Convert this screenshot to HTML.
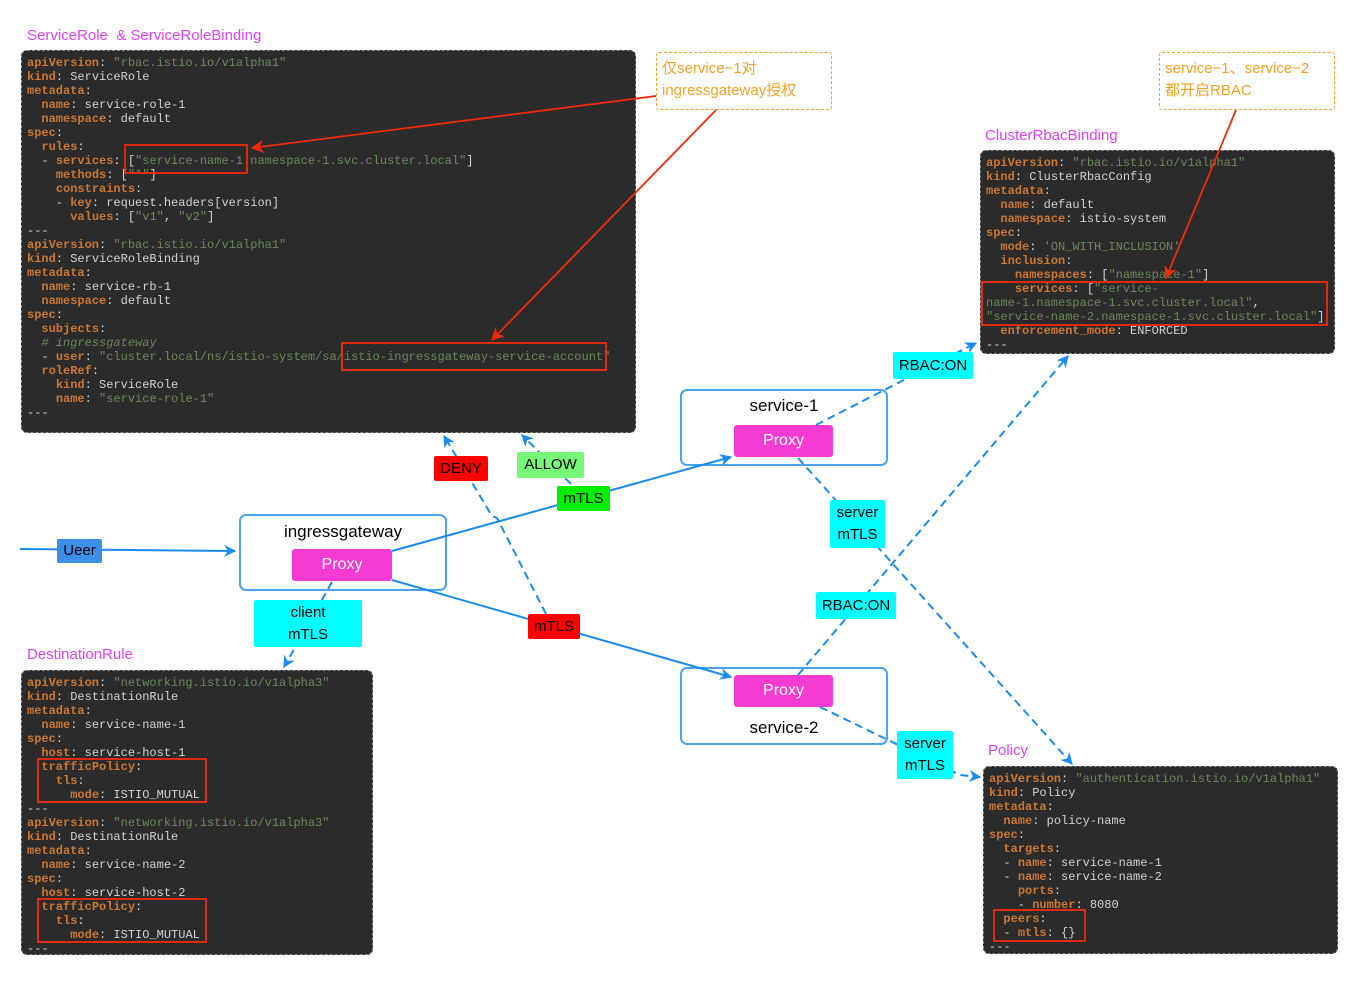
<!DOCTYPE html>
<html><head><meta charset="utf-8"><style>
body{margin:0;width:1358px;height:989px;background:#fff;position:relative;overflow:hidden;font-family:"Liberation Sans","Noto Sans CJK SC",sans-serif}
.code{position:absolute;background:#2b2b2b;border:1.5px dashed #888;border-radius:6px;box-sizing:border-box;margin:0;padding:5px 0 0 5px;font:12px/14px "Liberation Mono",monospace;color:#d0d3d6;white-space:pre;overflow:hidden}
.k{color:#cc7832;font-weight:bold}.s{color:#6a8759}.c{color:#6a8759;font-style:italic}
.t{position:absolute;color:#e040fb;font-size:15px}
.lb{position:absolute;font-size:15px;color:#000;text-align:center;border-radius:2px;display:flex;align-items:center;justify-content:center;line-height:22px}
.ob{position:absolute;border:1.5px dashed #f7a125;color:#f7a125;font-size:15px;line-height:22px;padding:5px 5px;box-sizing:border-box;border-radius:3px}
.nb{position:absolute;border:2px solid #4aa3f0;border-radius:7px;box-sizing:border-box;font-size:17px;text-align:center}
.px{position:absolute;background:#f53bd2;color:#fff;font-size:16px;border-radius:3px;display:flex;align-items:center;justify-content:center}
svg{position:absolute;left:0;top:0}
</style></head><body>
<div class="t" style="left:27px;top:27px">ServiceRole &nbsp;&amp; ServiceRoleBinding</div>
<div class="t" style="left:985px;top:127px">ClusterRbacBinding</div>
<div class="t" style="left:27px;top:646px">DestinationRule</div>
<div class="t" style="left:988px;top:742px">Policy</div>

<pre class="code" style="left:21px;top:50px;width:615px;height:383px"><span class="k">apiVersion</span>: <span class="s">"rbac.istio.io/v1alpha1"</span>
<span class="k">kind</span>: ServiceRole
<span class="k">metadata</span>:
  <span class="k">name</span>: service-role-1
  <span class="k">namespace</span>: default
<span class="k">spec</span>:
  <span class="k">rules</span>:
  - <span class="k">services</span>: [<span class="s">"service-name-1.namespace-1.svc.cluster.local"</span>]
    <span class="k">methods</span>: [<span class="s">"*"</span>]
    <span class="k">constraints</span>:
    - <span class="k">key</span>: request.headers[version]
      <span class="k">values</span>: [<span class="s">"v1"</span>, <span class="s">"v2"</span>]
---
<span class="k">apiVersion</span>: <span class="s">"rbac.istio.io/v1alpha1"</span>
<span class="k">kind</span>: ServiceRoleBinding
<span class="k">metadata</span>:
  <span class="k">name</span>: service-rb-1
  <span class="k">namespace</span>: default
<span class="k">spec</span>:
  <span class="k">subjects</span>:
  <span class="c"># ingressgateway</span>
  - <span class="k">user</span>: <span class="s">"cluster.local/ns/istio-system/sa/istio-ingressgateway-service-account"</span>
  <span class="k">roleRef</span>:
    <span class="k">kind</span>: ServiceRole
    <span class="k">name</span>: <span class="s">"service-role-1"</span>
---</pre>

<pre class="code" style="left:980px;top:150px;width:355px;height:204px"><span class="k">apiVersion</span>: <span class="s">"rbac.istio.io/v1alpha1"</span>
<span class="k">kind</span>: ClusterRbacConfig
<span class="k">metadata</span>:
  <span class="k">name</span>: default
  <span class="k">namespace</span>: istio-system
<span class="k">spec</span>:
  <span class="k">mode</span>: <span class="s">'ON_WITH_INCLUSION'</span>
  <span class="k">inclusion</span>:
    <span class="k">namespaces</span>: [<span class="s">"namespace-1"</span>]
    <span class="k">services</span>: [<span class="s">"service-</span>
<span class="s">name-1.namespace-1.svc.cluster.local"</span>,
<span class="s">"service-name-2.namespace-1.svc.cluster.local"</span>]
  <span class="k">enforcement_mode</span>: ENFORCED
---</pre>

<pre class="code" style="left:21px;top:670px;width:352px;height:285px"><span class="k">apiVersion</span>: <span class="s">"networking.istio.io/v1alpha3"</span>
<span class="k">kind</span>: DestinationRule
<span class="k">metadata</span>:
  <span class="k">name</span>: service-name-1
<span class="k">spec</span>:
  <span class="k">host</span>: service-host-1
  <span class="k">trafficPolicy</span>:
    <span class="k">tls</span>:
      <span class="k">mode</span>: ISTIO_MUTUAL
---
<span class="k">apiVersion</span>: <span class="s">"networking.istio.io/v1alpha3"</span>
<span class="k">kind</span>: DestinationRule
<span class="k">metadata</span>:
  <span class="k">name</span>: service-name-2
<span class="k">spec</span>:
  <span class="k">host</span>: service-host-2
  <span class="k">trafficPolicy</span>:
    <span class="k">tls</span>:
      <span class="k">mode</span>: ISTIO_MUTUAL
---</pre>

<pre class="code" style="left:983px;top:766px;width:355px;height:188px"><span class="k">apiVersion</span>: <span class="s">"authentication.istio.io/v1alpha1"</span>
<span class="k">kind</span>: Policy
<span class="k">metadata</span>:
  <span class="k">name</span>: policy-name
<span class="k">spec</span>:
  <span class="k">targets</span>:
  - <span class="k">name</span>: service-name-1
  - <span class="k">name</span>: service-name-2
    <span class="k">ports</span>:
    - <span class="k">number</span>: 8080
  <span class="k">peers</span>:
  - <span class="k">mtls</span>: {}
---</pre>

<div class="ob" style="left:656px;top:52px;width:176px;height:58px">仅service−1对<br>ingressgateway授权</div>
<div class="ob" style="left:1159px;top:52px;width:176px;height:58px">service−1、service−2<br>都开启RBAC</div>

<div class="nb" style="left:680px;top:389px;width:208px;height:77px;padding-top:5px">service-1</div>
<div class="px" style="left:734px;top:425px;width:99px;height:32px">Proxy</div>
<div class="nb" style="left:239px;top:514px;width:208px;height:77px;padding-top:6px">ingressgateway</div>
<div class="px" style="left:292px;top:549px;width:100px;height:32px">Proxy</div>
<div class="nb" style="left:680px;top:667px;width:208px;height:78px;padding-top:49px">service-2</div>
<div class="px" style="left:734px;top:675px;width:99px;height:32px">Proxy</div>

<svg width="1358" height="989">
<defs>
<marker id="a" viewBox="0 0 10 10" refX="9" refY="5" markerWidth="12" markerHeight="12" orient="auto" markerUnits="userSpaceOnUse"><path d="M0,0 L10,5 L0,10 L3,5 Z" fill="#1a8cf0"/></marker>
<marker id="r" viewBox="0 0 10 10" refX="9" refY="5" markerWidth="13" markerHeight="13" orient="auto" markerUnits="userSpaceOnUse"><path d="M0,0 L10,5 L0,10 L3,5 Z" fill="#f22a0a"/></marker>
</defs>
<g fill="none" stroke="#f22a0a" stroke-width="1.8">
<rect x="125" y="145" width="122" height="28"/>
<rect x="342" y="343" width="264" height="27"/>
<rect x="982" y="282" width="345" height="43"/>
<rect x="38" y="759" width="168" height="43"/>
<rect x="38" y="899" width="168" height="43"/>
<rect x="994" y="910" width="91" height="31"/>
<line x1="656" y1="96" x2="252" y2="148" marker-end="url(#r)"/>
<line x1="716" y1="110" x2="492" y2="340" marker-end="url(#r)"/>
<line x1="1236" y1="110" x2="1166" y2="278" marker-end="url(#r)"/>
</g>
<g fill="none" stroke="#1a8cf0" stroke-width="2">
<line x1="20" y1="549" x2="235" y2="551" marker-end="url(#a)"/>
<line x1="392" y1="551" x2="731" y2="457" marker-end="url(#a)"/>
<line x1="392" y1="580" x2="731" y2="677" marker-end="url(#a)"/>
</g>
<g fill="none" stroke="#1a8cf0" stroke-width="2" stroke-dasharray="8,5">
<polyline points="546,614 497,518 492,516 444,436" marker-end="url(#a)"/>
<line x1="571" y1="484" x2="522" y2="435" marker-end="url(#a)"/>
<line x1="816" y1="425" x2="976" y2="343" marker-end="url(#a)"/>
<line x1="798" y1="458" x2="1072" y2="764" marker-end="url(#a)"/>
<line x1="798" y1="675" x2="1068" y2="356" marker-end="url(#a)"/>
<polyline points="820,707 888,740 960,775 980,777" marker-end="url(#a)"/>
<line x1="332" y1="582" x2="284" y2="667" marker-end="url(#a)"/>
</g>
</svg>

<div class="lb" style="left:57px;top:539px;width:45px;height:24px;background:#3b8fe8">Ueer</div>
<div class="lb" style="left:434px;top:456px;width:54px;height:25px;background:#ff0000">DENY</div>
<div class="lb" style="left:517px;top:452px;width:67px;height:26px;background:#77f777">ALLOW</div>
<div class="lb" style="left:557px;top:486px;width:53px;height:25px;background:#00ee00">mTLS</div>
<div class="lb" style="left:528px;top:614px;width:52px;height:25px;background:#ff0000">mTLS</div>
<div class="lb" style="left:254px;top:600px;width:108px;height:47px;background:#00ffff">client<br>mTLS</div>
<div class="lb" style="left:830px;top:500px;width:55px;height:48px;background:#00ffff">server<br>mTLS</div>
<div class="lb" style="left:893px;top:352px;width:80px;height:27px;background:#00ffff">RBAC:ON</div>
<div class="lb" style="left:816px;top:592px;width:80px;height:27px;background:#00ffff">RBAC:ON</div>
<div class="lb" style="left:897px;top:731px;width:56px;height:48px;background:#00ffff">server<br>mTLS</div>
</body></html>
